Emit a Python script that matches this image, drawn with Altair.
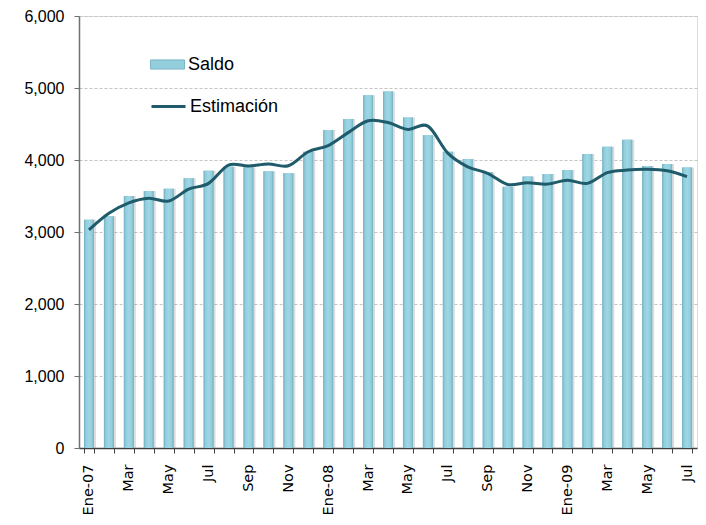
import json
import altair as alt
import pandas as pd

# ---- data ----
meses = ["Ene-07", "Feb-07", "Mar-07", "Abr-07", "May-07", "Jun-07", "Jul-07", "Ago-07",
         "Sep-07", "Oct-07", "Nov-07", "Dic-07",
         "Ene-08", "Feb-08", "Mar-08", "Abr-08", "May-08", "Jun-08", "Jul-08", "Ago-08",
         "Sep-08", "Oct-08", "Nov-08", "Dic-08",
         "Ene-09", "Feb-09", "Mar-09", "Abr-09", "May-09", "Jun-09", "Jul-09"]
etiquetas = ["Ene-07", "", "Mar", "", "May", "", "Jul", "", "Sep", "", "Nov", "",
             "Ene-08", "", "Mar", "", "May", "", "Jul", "", "Sep", "", "Nov", "",
             "Ene-09", "", "Mar", "", "May", "", "Jul"]
saldo = [3170, 3220, 3500, 3570, 3600, 3745, 3850, 3905, 3900, 3845, 3815, 4115,
         4415, 4570, 4900, 4950, 4590, 4345, 4115, 4015, 3830, 3630, 3770, 3805,
         3860, 4085, 4185, 4280, 3915, 3945, 3895]
estimacion = [3030, 3260, 3405, 3470, 3430, 3595, 3675, 3930, 3915, 3945, 3920, 4115,
              4200, 4380, 4545, 4520, 4425, 4470, 4095, 3905, 3815, 3660, 3685, 3665,
              3720, 3675, 3825, 3860, 3870, 3850, 3770]
y_ticks = [0, 1000, 2000, 3000, 4000, 5000, 6000]

df = pd.DataFrame({
    "mes": meses,
    "saldo": saldo,
    "estimacion": estimacion,
    "serie_b": ["Saldo"] * len(meses),
    "serie_l": ["Estimación"] * len(meses),
})

label_expr = f"{json.dumps(etiquetas)}[indexof({json.dumps(meses)}, datum.value)]"

x_enc = alt.X(
    "mes:N", sort=meses,
    scale=alt.Scale(paddingInner=0.5, paddingOuter=0.25),
    axis=alt.Axis(
        title=None, labelAngle=-90, labelExpr=label_expr, labelOverlap=False,
        labelFont="DejaVu Sans", labelFontSize=14.5, labelColor="#000000",
        labelPadding=11, tickBand="extent", tickSize=5, tickColor="#404040",
        domainColor="#404040", domainWidth=1.5, grid=False,
    ),
)
y_axis = alt.Axis(
    title=None, values=y_ticks, format=",.0f", labelFont="Liberation Sans",
    labelFontSize=16, labelColor="#000000", labelPadding=10,
    tickSize=5, tickColor="#707070", domainColor="#707070", domainWidth=1.5,
    grid=True, gridColor="#C4C4C4", gridDash=[3, 2], gridWidth=1,
)
y_scale = alt.Scale(domain=[0, 6000], nice=False)

base = alt.Chart(df)

shadow = base.mark_bar(xOffset=2, color="#8A8A8A", opacity=0.3).encode(
    x=x_enc,
    y=alt.Y("saldo:Q", scale=y_scale, axis=y_axis),
)

bars = base.mark_bar().encode(
    x=x_enc,
    y=alt.Y("saldo:Q", scale=y_scale, axis=y_axis),
    color=alt.Color(
        "serie_b:N", scale=alt.Scale(range=["#93CEDD"]),
        legend=alt.Legend(
            orient="none", legendX=71, legendY=31, title=None, padding=0,
            symbolType="M-1,-0.27L1,-0.27L1,0.27L-1,0.27Z", symbolSize=1156,
            symbolStrokeColor="#7DB6C6", symbolStrokeWidth=1, symbolOpacity=1,
            labelFont="Liberation Sans", labelFontSize=18, labelColor="#000000",
            labelOffset=3,
        ),
    ),
)

grad = alt.Gradient(
    gradient="linear", x1=0, x2=1, y1=0, y2=0,
    stops=[
        alt.GradientStop(color="#72AFBF", offset=0),
        alt.GradientStop(color="#92CEDC", offset=0.2),
        alt.GradientStop(color="#9ED6E4", offset=0.5),
        alt.GradientStop(color="#92CEDC", offset=0.8),
        alt.GradientStop(color="#72AFBF", offset=1),
    ],
)
bars_grad = base.mark_bar(color=grad).encode(
    x=x_enc,
    y=alt.Y("saldo:Q", scale=y_scale, axis=y_axis),
)

line = base.mark_line(interpolate="cardinal", strokeWidth=3).encode(
    x=x_enc,
    y=alt.Y("estimacion:Q", scale=y_scale, axis=y_axis),
    stroke=alt.Stroke(
        "serie_l:N", scale=alt.Scale(range=["#1F5B6A"]),
        legend=alt.Legend(
            orient="none", legendX=71, legendY=72, title=None, padding=0,
            symbolType="stroke", symbolSize=1156, symbolStrokeWidth=3,
            labelFont="Liberation Sans", labelFontSize=18, labelColor="#000000",
            labelOffset=3,
        ),
    ),
)

chart = alt.layer(shadow, bars, bars_grad, line).properties(
    width=618, height=432,
    autosize=alt.AutoSizeParams(type="none"),
    padding={"left": 71, "top": 8, "right": 1, "bottom": 69},
).configure_view(stroke="#A6A6A6", strokeWidth=1).configure(background="#FFFFFF")

chart.save("out.html", embed_options={"renderer": "svg", "actions": False})
